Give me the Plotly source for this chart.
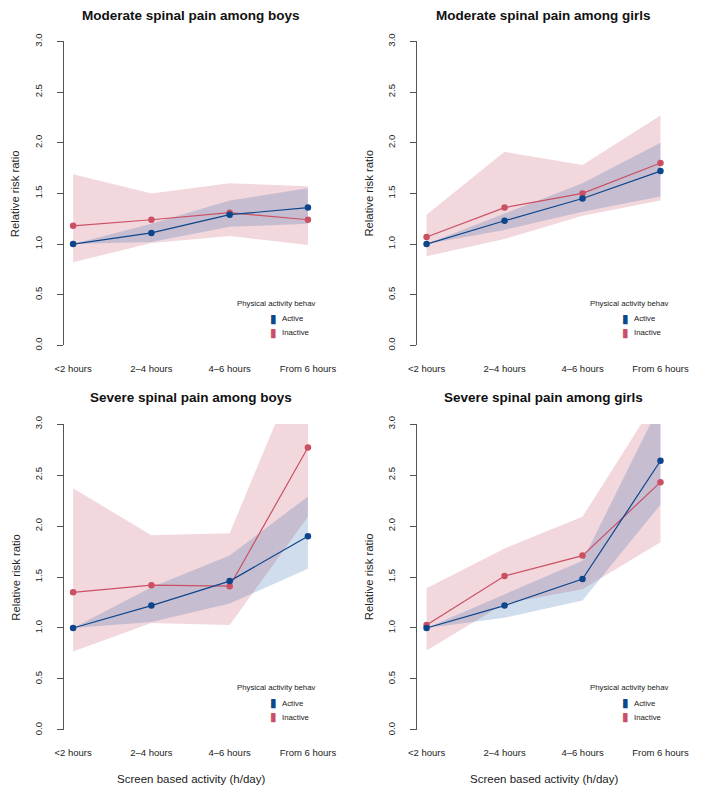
import plotly.graph_objects as go

W, H = 709, 793

categories = ["<2 hours", "2–4 hours", "4–6 hours", "From 6 hours"]
y_ticks = [0.0, 0.5, 1.0, 1.5, 2.0, 2.5, 3.0]

titles = [
    "Moderate spinal pain among boys",
    "Moderate spinal pain among girls",
    "Severe spinal pain among boys",
    "Severe spinal pain among girls",
]

# Moderate spinal pain among boys
mb_active = [1.00, 1.11, 1.29, 1.36]
mb_active_lo = [1.00, 1.02, 1.17, 1.20]
mb_active_hi = [1.00, 1.20, 1.43, 1.55]
mb_inactive = [1.18, 1.24, 1.31, 1.24]
mb_inactive_lo = [0.82, 1.01, 1.08, 0.99]
mb_inactive_hi = [1.69, 1.50, 1.60, 1.57]

# Moderate spinal pain among girls
mg_active = [1.00, 1.23, 1.45, 1.72]
mg_active_lo = [1.00, 1.14, 1.32, 1.47]
mg_active_hi = [1.00, 1.30, 1.60, 2.00]
mg_inactive = [1.07, 1.36, 1.50, 1.80]
mg_inactive_lo = [0.88, 1.05, 1.28, 1.43]
mg_inactive_hi = [1.29, 1.91, 1.78, 2.27]

# Severe spinal pain among boys
sb_active = [1.00, 1.22, 1.46, 1.90]
sb_active_lo = [1.00, 1.06, 1.24, 1.58]
sb_active_hi = [1.00, 1.40, 1.71, 2.29]
sb_inactive = [1.35, 1.42, 1.41, 2.77]
sb_inactive_lo = [0.77, 1.05, 1.03, 2.09]
sb_inactive_hi = [2.37, 1.91, 1.93, 3.77]

# Severe spinal pain among girls
sg_active = [1.00, 1.22, 1.48, 2.64]
sg_active_lo = [1.00, 1.10, 1.27, 2.21]
sg_active_hi = [1.00, 1.33, 1.66, 3.20]
sg_inactive = [1.03, 1.51, 1.71, 2.43]
sg_inactive_lo = [0.78, 1.24, 1.38, 1.84]
sg_inactive_hi = [1.39, 1.78, 2.09, 3.30]

panels = [
    (mb_active, mb_active_lo, mb_active_hi, mb_inactive, mb_inactive_lo, mb_inactive_hi),
    (mg_active, mg_active_lo, mg_active_hi, mg_inactive, mg_inactive_lo, mg_inactive_hi),
    (sb_active, sb_active_lo, sb_active_hi, sb_inactive, sb_inactive_lo, sb_inactive_hi),
    (sg_active, sg_active_lo, sg_active_hi, sg_inactive, sg_inactive_lo, sg_inactive_hi),
]

ACTIVE = "#0E468C"
INACTIVE = "#CB5064"
ACTIVE_FILL = "rgba(40,100,170,0.22)"
INACTIVE_FILL = "rgba(205,95,115,0.25)"
FONT = "Liberation Sans, Arial, Helvetica, sans-serif"
TXT = "#222222"
AXC = "#555555"

# pixel boxes of plot areas (left, right, top, bottom)
cols = [(57, 321), (425, 688)]
rows = [(34, 343), (423, 734)]

def px(x):
    return x / W

def py(y):
    return 1 - y / H

xpos = list(range(1, len(categories) + 1))

fig = go.Figure()
layout = dict(
    width=W, height=H,
    margin=dict(l=0, r=0, t=0, b=0),
    paper_bgcolor="white", plot_bgcolor="white",
    showlegend=False,
    font=dict(family=FONT, color=TXT),
)
annotations = []

for i, (a, alo, ahi, n, nlo, nhi) in enumerate(panels):
    r, c = divmod(i, 2)
    L, R = cols[c]
    T, B = rows[r]
    sfx = "" if i == 0 else str(i + 1)
    xa, ya = "x" + sfx, "y" + sfx

    # confidence bands
    fig.add_trace(go.Scatter(
        x=xpos + xpos[::-1], y=nhi + nlo[::-1], fill="toself",
        fillcolor=INACTIVE_FILL, line=dict(width=0), mode="lines",
        hoverinfo="skip", xaxis=xa, yaxis=ya))
    fig.add_trace(go.Scatter(
        x=xpos + xpos[::-1], y=ahi + alo[::-1], fill="toself",
        fillcolor=ACTIVE_FILL, line=dict(width=0), mode="lines",
        hoverinfo="skip", xaxis=xa, yaxis=ya))
    # lines + points
    fig.add_trace(go.Scatter(
        x=xpos, y=n, mode="lines+markers", name="Inactive",
        line=dict(color=INACTIVE, width=1.2),
        marker=dict(color=INACTIVE, size=6.5),
        xaxis=xa, yaxis=ya))
    fig.add_trace(go.Scatter(
        x=xpos, y=a, mode="lines+markers", name="Active",
        line=dict(color=ACTIVE, width=1.2),
        marker=dict(color=ACTIVE, size=6.5),
        xaxis=xa, yaxis=ya))

    layout["xaxis" + sfx] = dict(
        domain=[px(L), px(R)], anchor=ya, range=[0.88, 4.12],
        tickmode="array", tickvals=xpos, ticktext=categories,
        showgrid=False, zeroline=False, showline=False,
        ticks="", ticklabelstandoff=16,
        tickfont=dict(size=9.5, color=TXT, family=FONT),
    )
    layout["yaxis" + sfx] = dict(
        domain=[py(B), py(T)], anchor=xa, range=[0, 3],
        tickmode="array", tickvals=y_ticks, tickformat=".1f",
        showgrid=False, zeroline=False, showline=True,
        linecolor=AXC, linewidth=1, ticks="outside", ticklen=6,
        tickcolor=AXC, tickangle=-90, ticklabelstandoff=11,
        tickfont=dict(size=9.5, color=TXT, family=FONT),
    )

    cx = (L + R) / 2
    # panel title
    annotations.append(dict(
        text="<b>" + titles[i] + "</b>", x=px(cx), y=py(T - 26 if r == 0 else T - 27),
        xref="paper", yref="paper", xanchor="center", yanchor="middle",
        showarrow=False, font=dict(size=13.5, color="#111111", family=FONT)))
    # y axis title
    annotations.append(dict(
        text="Relative risk ratio", x=px(L - 50), y=py((T + B) / 2),
        xref="paper", yref="paper", xanchor="center", yanchor="middle",
        textangle=-90, showarrow=False, font=dict(size=11.3, color=TXT, family=FONT)))
    # x axis title (bottom row)
    if r == 1:
        annotations.append(dict(
            text="Screen based activity (h/day)", x=px(cx), y=py(784),
            xref="paper", yref="paper", xanchor="center", yanchor="middle",
            showarrow=False, font=dict(size=11.5, color=TXT, family=FONT)))
    # legend
    annotations.append(dict(
        text="Physical activity behav", x=px(R + 1), y=py(B - 43),
        xref="paper", yref="paper", xanchor="right", yanchor="middle",
        showarrow=False, font=dict(size=7.8, color=TXT, family=FONT)))
    for k, (lab, col) in enumerate([("Active", ACTIVE), ("Inactive", INACTIVE)]):
        yy = B - 27 + 14 * k
        annotations.append(dict(
            text="▮", x=px(R - 46), y=py(yy),
            xref="paper", yref="paper", xanchor="center", yanchor="middle",
            showarrow=False, font=dict(size=12, color=col, family="DejaVu Sans")))
        annotations.append(dict(
            text=lab, x=px(R - 39), y=py(yy),
            xref="paper", yref="paper", xanchor="left", yanchor="middle",
            showarrow=False, font=dict(size=7.8, color=TXT, family=FONT)))

layout["annotations"] = annotations
fig.update_layout(**layout)
fig.write_html(
    "out.html",
    config={"displayModeBar": False, "responsive": False},
    post_script=(
        "document.documentElement.style.margin='0';"
        "document.documentElement.style.overflow='hidden';"
        "document.body.style.margin='0';"
        "document.body.style.overflow='hidden';"
    ),
)
